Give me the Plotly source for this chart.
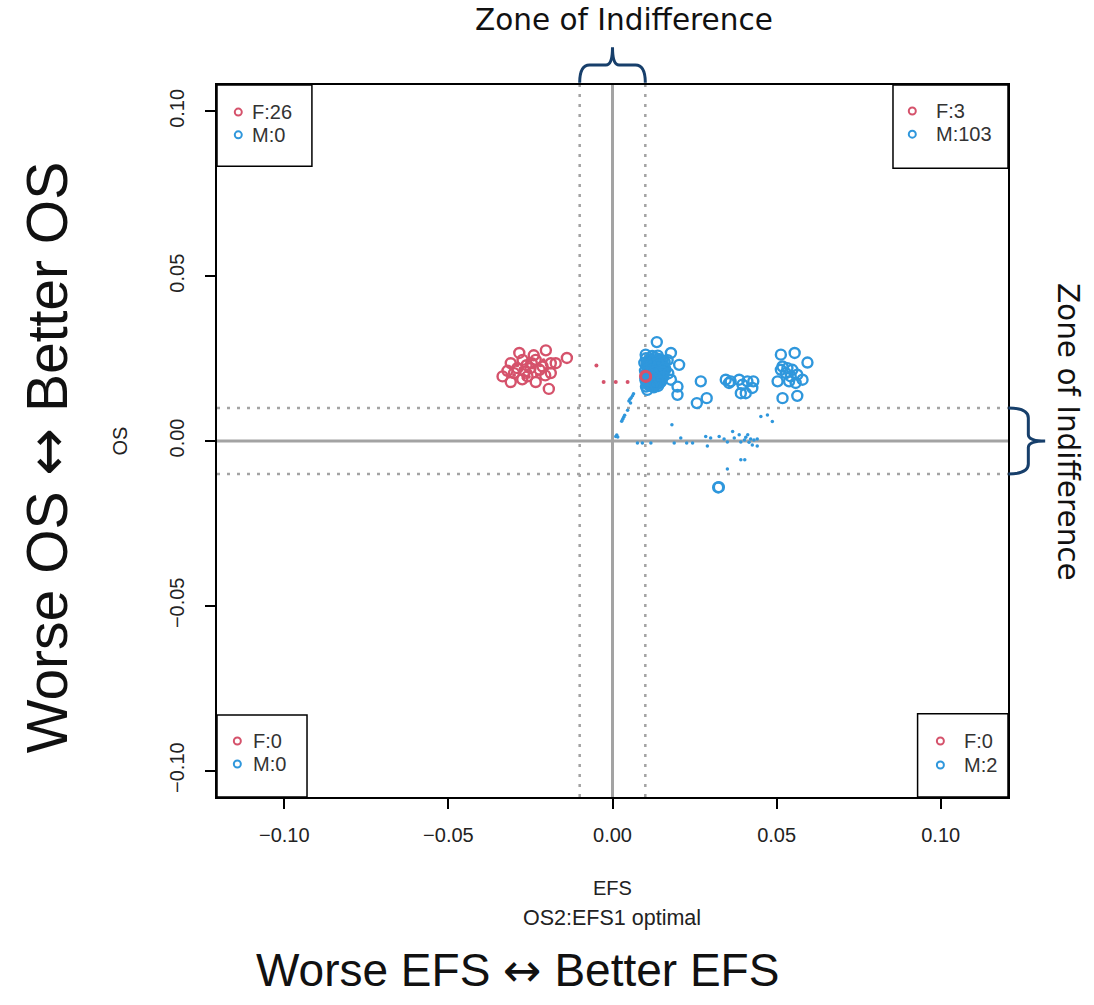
import plotly.graph_objects as go

# ---- data -------------------------------------------------------------
ZONE = 0.01  # half-width of the zone of indifference

tick_vals = [-0.10, -0.05, 0.00, 0.05, 0.10]
tick_text = ["\u22120.10", "\u22120.05", "0.00", "0.05", "0.10"]

# quadrant counts: top-left, top-right, bottom-left, bottom-right
quad_names = ["TL", "TR", "BL", "BR"]
f_counts = [26, 3, 0, 0]
m_counts = [0, 103, 0, 2]

# female scenarios (open circles)
f_efs = [-0.0335, -0.0310, -0.0310, -0.0284, -0.0274, -0.0290, -0.0259, -0.0267,
         -0.0246, -0.0234, -0.0234, -0.0213, -0.0203, -0.0188, -0.0188, -0.0173,
         -0.0139, -0.0194, -0.0300, -0.0222, -0.0250, -0.0275, -0.0205, -0.0320,
         -0.0240, -0.0262,
         0.0101, 0.0102, 0.0100]
f_os = [0.0196, 0.0179, 0.0236, 0.0267, 0.0246, 0.0221, 0.0196, 0.0211,
        0.0236, 0.0246, 0.0179, 0.0226, 0.0275, 0.0236, 0.0206, 0.0236,
        0.0252, 0.0158, 0.0206, 0.0216, 0.0221, 0.0187, 0.0199, 0.0213,
        0.0260, 0.0230,
        0.0196, 0.0195, 0.0197]

# male scenarios (open circles)
m_efs = [0.0102, 0.0117, 0.0129, 0.0141, 0.0153,
         0.0097, 0.0111, 0.0123, 0.0136, 0.0148, 0.0159,
         0.0105, 0.0118, 0.0130, 0.0142, 0.0155,
         0.0099, 0.0112, 0.0124, 0.0135, 0.0149, 0.0161,
         0.0106, 0.0118, 0.0131, 0.0143, 0.0155,
         0.0100, 0.0113, 0.0125, 0.0138, 0.0150,
         0.0107, 0.0119, 0.0132, 0.0144,
         0.0102, 0.0114, 0.0126, 0.0139,
         0.0121, 0.0134, 0.0127, 0.0109, 0.0146, 0.0116, 0.0133, 0.0151, 0.0108, 0.0138,
         0.0110, 0.0123, 0.0135, 0.0147,
         0.0104, 0.0117, 0.0129, 0.0141, 0.0153,
         0.0110, 0.0122, 0.0136, 0.0148, 0.0158,
         0.0105, 0.0117, 0.0129, 0.0141, 0.0153,
         0.0106, 0.0119, 0.0131, 0.0143, 0.0155,
         0.0101, 0.0112, 0.0125, 0.0138, 0.0148,
         0.0108, 0.0120, 0.0131,
         0.0135, 0.0178, 0.0203, 0.0178, 0.0198, 0.0198, 0.0101, 0.0106, 0.0168, 0.0170,
         0.0269, 0.0257, 0.0287, 0.0345, 0.0360, 0.0386, 0.0396, 0.0411, 0.0429,
         0.0391, 0.0406, 0.0426, 0.0355,
         0.0513, 0.0555, 0.0594, 0.0513, 0.0528, 0.0548, 0.0563, 0.0579, 0.0503,
         0.0538, 0.0558, 0.0518, 0.0563, 0.0518, 0.0543, 0.0533,
         0.0322, 0.0324]
m_os = [0.0251, 0.0247, 0.0253, 0.0249, 0.0244,
        0.0237, 0.0240, 0.0236, 0.0241, 0.0235, 0.0239,
        0.0227, 0.0224, 0.0229, 0.0222, 0.0226,
        0.0213, 0.0216, 0.0211, 0.0215, 0.0212, 0.0217,
        0.0203, 0.0200, 0.0205, 0.0199, 0.0203,
        0.0189, 0.0192, 0.0187, 0.0191, 0.0186,
        0.0178, 0.0175, 0.0179, 0.0176,
        0.0165, 0.0168, 0.0163, 0.0167,
        0.0258, 0.0231, 0.0219, 0.0196, 0.0207, 0.0182, 0.0171, 0.0229, 0.0231, 0.0259,
        0.0245, 0.0244, 0.0246, 0.0242,
        0.0233, 0.0232, 0.0234, 0.0230, 0.0233,
        0.0220, 0.0218, 0.0222, 0.0219, 0.0222,
        0.0209, 0.0208, 0.0212, 0.0207, 0.0210,
        0.0195, 0.0194, 0.0197, 0.0193, 0.0195,
        0.0183, 0.0181, 0.0181, 0.0184, 0.0180,
        0.0171, 0.0169, 0.0172,
        0.0300, 0.0267, 0.0231, 0.0186, 0.0165, 0.0140, 0.0262, 0.0155, 0.0245, 0.0205,
        0.0181, 0.0115, 0.0130, 0.0186, 0.0181, 0.0186, 0.0171, 0.0181, 0.0181,
        0.0145, 0.0145, 0.0161, 0.0176,
        0.0262, 0.0267, 0.0238, 0.0216, 0.0206, 0.0216, 0.0201, 0.0186, 0.0181,
        0.0181, 0.0176, 0.0130, 0.0137, 0.0226, 0.0196, 0.0221,
        -0.0141, -0.0140]

# intermediate simulation points (small dots)
f_dot_efs = [-0.0049, -0.0027, 0.0010, 0.0046,
             -0.0280, -0.0250, -0.0220, -0.0300, -0.0260, -0.0230, -0.0200, -0.0270,
             -0.0290, -0.0240, -0.0210, -0.0255]
f_dot_os = [0.0229, 0.0179, 0.0179, 0.0179,
            0.0220, 0.0210, 0.0230, 0.0200, 0.0240, 0.0200, 0.0220, 0.0190,
            0.0230, 0.0225, 0.0245, 0.0195]

m_dot_efs = [0.0010, 0.0013, 0.0016, 0.0028, 0.0031, 0.0034, 0.0037, 0.0046,
             0.0050, 0.0053, 0.0057, 0.0061, 0.0064, 0.0055,
             0.0076, 0.0091, 0.0117, 0.0181, 0.0188, 0.0208, 0.0226, 0.0244,
             0.0284, 0.0289, 0.0299, 0.0325, 0.0340, 0.0350, 0.0366, 0.0371,
             0.0386, 0.0391, 0.0402, 0.0406, 0.0412, 0.0416, 0.0421, 0.0426,
             0.0431, 0.0441, 0.0441, 0.0452, 0.0472, 0.0487, 0.0391, 0.0403, 0.0350,
             0.0115, 0.0128, 0.0140, 0.0121, 0.0134, 0.0146, 0.0112, 0.0126, 0.0139]
m_dot_os = [0.0014, 0.0018, 0.0012, 0.0060, 0.0066, 0.0072, 0.0078, 0.0093,
            0.0121, 0.0127, 0.0131, 0.0137, 0.0143, 0.0115,
            -0.0006, -0.0006, -0.0006, 0.0049, -0.0006, 0.0009, -0.0006, -0.0006,
            0.0014, -0.0015, 0.0009, 0.0014, 0.0006, -0.0003, 0.0029, 0.0009,
            0.0019, -0.0003, 0.0003, 0.0011, 0.0019, -0.0004, 0.0006, -0.0012,
            0.0003, -0.0015, 0.0006, 0.0074, 0.0079, 0.0059, -0.0057, -0.0057, -0.0085,
            0.0240, 0.0238, 0.0236, 0.0215, 0.0214, 0.0216, 0.0190, 0.0188, 0.0185]

# ---- styling ------------------------------------------------------------
RED = "#D5526B"
BLUE = "#2F97DC"
GREY = "#A3A3A3"
SANS = "Liberation Sans, Arial, sans-serif"
TICK_FONT = dict(family=SANS, size=20, color="#222222")
ZONE_FONT = dict(family="DejaVu Sans, Verdana, sans-serif", size=29.5, color="#111111")
BRACE = "#173F6B"
ARROW = '<span style="font-family:DejaVu Sans">\u2194</span>'

X_RANGE = [-0.1205, 0.1205]
Y_RANGE = [-0.108, 0.108]

fig = go.Figure()

# final scenarios
fig.add_trace(go.Scatter(x=m_efs, y=m_os, mode="markers", name="M",
                         marker=dict(symbol="circle-open", size=10, color=BLUE,
                                     line=dict(width=2.4, color=BLUE))))

# simulation paths
fig.add_trace(go.Scatter(x=m_dot_efs, y=m_dot_os, mode="markers",
                         marker=dict(size=3.5, color=BLUE), hoverinfo="skip"))
fig.add_trace(go.Scatter(x=f_dot_efs, y=f_dot_os, mode="markers",
                         marker=dict(size=4, color=RED), hoverinfo="skip"))

fig.add_trace(go.Scatter(x=f_efs, y=f_os, mode="markers", name="F",
                         marker=dict(symbol="circle-open", size=10, color=RED,
                                     line=dict(width=2.4, color=RED))))

# reference lines: zero axes (solid) and zone limits (dotted)
shapes = []
shapes.append(dict(type="line", xref="x", yref="paper", x0=0, x1=0, y0=0, y1=1,
                   line=dict(color=GREY, width=3), layer="below"))
shapes.append(dict(type="line", xref="paper", yref="y", x0=0, x1=1, y0=0, y1=0,
                   line=dict(color=GREY, width=3), layer="below"))
for v in (-ZONE, ZONE):
    shapes.append(dict(type="line", xref="x", yref="paper", x0=v, x1=v, y0=0, y1=1,
                       line=dict(color=GREY, width=2.5, dash="3px,7px"), layer="below"))
    shapes.append(dict(type="line", xref="paper", yref="y", x0=0, x1=1, y0=v, y1=v,
                       line=dict(color=GREY, width=2.5, dash="3px,7px"), layer="below"))

# quadrant legend boxes (paper coordinates)
box_x = {"TL": (0.0, 0.120), "TR": (0.8546, 1.0), "BL": (0.0, 0.1138), "BR": (0.8857, 1.0)}
box_y = {"TL": (0.886, 1.0), "TR": (0.883, 1.0), "BL": (0.0, 0.115), "BR": (0.0, 0.117)}
for q in quad_names:
    shapes.append(dict(type="rect", xref="paper", yref="paper",
                       x0=box_x[q][0], x1=box_x[q][1], y0=box_y[q][0], y1=box_y[q][1],
                       line=dict(color="black", width=1.5), fillcolor="white", layer="below"))

# braces marking the zone of indifference
shapes.append(dict(
    type="path", xref="x", yref="paper",
    path=(f"M {-ZONE},1.003 Q {-ZONE},1.028 {-ZONE*0.7},1.028 L {-ZONE*0.2},1.028 "
          f"Q 0,1.028 0,1.053 Q 0,1.028 {ZONE*0.2},1.028 L {ZONE*0.7},1.028 "
          f"Q {ZONE},1.028 {ZONE},1.003"),
    line=dict(color=BRACE, width=3)))
shapes.append(dict(
    type="path", xref="paper", yref="y",
    path=(f"M 1.0004,{ZONE} Q 1.0257,{ZONE} 1.0257,{ZONE*0.7} L 1.0257,{ZONE*0.2} "
          f"Q 1.0257,0 1.047,0 Q 1.0257,0 1.0257,{-ZONE*0.2} L 1.0257,{-ZONE*0.7} "
          f"Q 1.0257,{-ZONE} 1.0004,{-ZONE}"),
    line=dict(color=BRACE, width=3)))

# legend markers inside each box, on an overlay axis spanning [0, 1]
mark_x = {"TL": 0.0269, "TR": 0.879, "BL": 0.0257, "BR": 0.9145}
mark_yf = {"TL": 0.962, "TR": 0.9635, "BL": 0.0787, "BR": 0.0787}
mark_ym = {"TL": 0.930, "TR": 0.931, "BL": 0.0463, "BR": 0.045}
text_x = {"TL": 0.0421, "TR": 0.906, "BL": 0.0434, "BR": 0.942}

fig.add_trace(go.Scatter(x=[mark_x[q] for q in quad_names], y=[mark_yf[q] for q in quad_names],
                         xaxis="x2", yaxis="y2", mode="markers", hoverinfo="skip",
                         marker=dict(symbol="circle-open", size=7, color=RED,
                                     line=dict(width=2, color=RED))))
fig.add_trace(go.Scatter(x=[mark_x[q] for q in quad_names], y=[mark_ym[q] for q in quad_names],
                         xaxis="x2", yaxis="y2", mode="markers", hoverinfo="skip",
                         marker=dict(symbol="circle-open", size=7, color=BLUE,
                                     line=dict(width=2, color=BLUE))))

annotations = []
LEG_FONT = dict(family=SANS, size=20, color="#333333")
for q, fc, mc in zip(quad_names, f_counts, m_counts):
    annotations.append(dict(xref="paper", yref="paper", x=text_x[q], y=mark_yf[q],
                            text=f"F:{fc}", showarrow=False, xanchor="left",
                            yanchor="middle", font=LEG_FONT))
    annotations.append(dict(xref="paper", yref="paper", x=text_x[q], y=mark_ym[q],
                            text=f"M:{mc}", showarrow=False, xanchor="left",
                            yanchor="middle", font=LEG_FONT))

SMALL = dict(family=SANS, size=20, color="#222222")
centered = dict(showarrow=False, xanchor="center", yanchor="middle",
                xref="paper", yref="paper")
annotations += [
    dict(x=0.4998, y=-0.128, text="EFS", font=SMALL, **centered),
    dict(x=0.4998, y=-0.170, text="OS2:EFS1 optimal",
         font=dict(family=SANS, size=21.5, color="#222222"), **centered),
    dict(x=-0.122, y=0.5, text="OS", textangle=-90, font=SMALL, **centered),
    dict(x=0.380, y=-0.243, text=f"Worse EFS {ARROW} Better EFS",
         font=dict(family=SANS, size=46, color="#111111"), **centered),
    dict(x=-0.2145, y=0.4775, text=f"Worse OS {ARROW} Better OS", textangle=-90,
         font=dict(family=SANS, size=57, color="#111111"), **centered),
    dict(x=0.514, y=1.091, text="Zone of Indifference", font=ZONE_FONT, **centered),
    dict(x=1.076, y=0.5126, text="Zone of Indifference", textangle=90,
         font=ZONE_FONT, **centered),
]

axis_common = dict(showgrid=False, zeroline=False, showline=True, mirror=True,
                   linecolor="black", linewidth=1.5, ticks="outside", ticklen=10,
                   tickwidth=1.5, tickcolor="black", tickvals=tick_vals,
                   ticktext=tick_text, tickfont=TICK_FONT)

fig.update_layout(
    width=1094, height=1005,
    margin=dict(l=217, r=86, t=85, b=208),
    paper_bgcolor="white", plot_bgcolor="white",
    showlegend=False,
    xaxis=dict(range=X_RANGE, ticklabelstandoff=9, **axis_common),
    yaxis=dict(range=Y_RANGE, tickangle=-90, ticklabelstandoff=13, **axis_common),
    xaxis2=dict(overlaying="x", range=[0, 1], visible=False),
    yaxis2=dict(overlaying="y", range=[0, 1], visible=False),
    shapes=shapes,
    annotations=annotations,
)

fig.write_html("out.html")
